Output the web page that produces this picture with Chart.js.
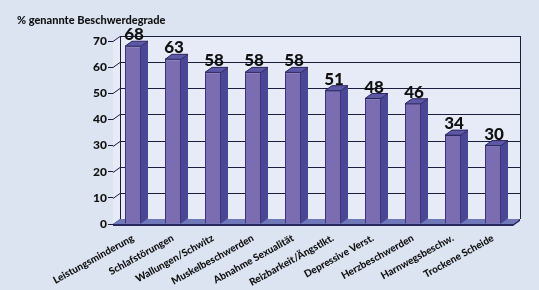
<!DOCTYPE html>
<html>
<head>
<meta charset="utf-8">
<script src="https://cdn.jsdelivr.net/npm/chart.js@4"></script>
<style>
  html, body { margin: 0; padding: 0; background: #dce4f1; }
  #wrap { width: 539px; height: 290px; }
</style>
</head>
<body>
<div id="wrap"><canvas id="chart"></canvas></div>
<script>
const categories = ['Leistungsminderung', 'Schlafstörungen', 'Wallungen/Schwitz', 'Muskelbeschwerden',
    'Abnahme Sexualität', 'Reizbarkeit/Ängstlkt.', 'Depressive Verst.', 'Herzbeschwerden',
    'Harnwegsbeschw.', 'Trockene Scheide'];
const percentValues = [68, 63, 58, 58, 58, 51, 48, 46, 34, 30];
const yTicks = [0, 10, 20, 30, 40, 50, 60, 70];
const titleText = '% genannte Beschwerdegrade';

const FONT = "Lato, 'Liberation Sans', sans-serif";
const DX = 7, DY = 5; // depth of the 3d look

// walls, grid and floor behind the bars, then bar sides/tops and labels
const backdrop = {
    id: 'backdrop',
    beforeDatasetsDraw(chart) {
        const { ctx, chartArea: { left, right, top, bottom }, scales: { y } } = chart;
        ctx.save();
        ctx.fillStyle = '#e7ebf7';
        ctx.beginPath();
        ctx.moveTo(left, top);
        ctx.lineTo(left + DX, top - DY);
        ctx.lineTo(right + DX, top - DY);
        ctx.lineTo(right + DX, bottom - DY);
        ctx.lineTo(left, bottom);
        ctx.closePath();
        ctx.fill();

        ctx.strokeStyle = '#1c1c3c';
        ctx.lineWidth = 1;
        yTicks.forEach(v => {
            const yy = Math.round(y.getPixelForValue(v)) + 0.5;
            ctx.beginPath();
            ctx.moveTo(left, yy);
            ctx.lineTo(left + DX, yy - DY);
            ctx.lineTo(right + DX, yy - DY);
            ctx.stroke();
        });
        ctx.beginPath();
        ctx.moveTo(left + DX + 0.5, top - DY);
        ctx.lineTo(left + DX + 0.5, bottom - DY);
        ctx.moveTo(right + DX + 0.5, top - DY);
        ctx.lineTo(right + DX + 0.5, bottom - DY);
        ctx.stroke();

        // floor
        ctx.fillStyle = '#7078b8';
        ctx.beginPath();
        ctx.moveTo(left, bottom);
        ctx.lineTo(left + DX, bottom - DY);
        ctx.lineTo(right + DX, bottom - DY);
        ctx.lineTo(right, bottom);
        ctx.closePath();
        ctx.fill();
        ctx.fillStyle = '#2a2660';
        ctx.beginPath();
        ctx.moveTo(left, bottom);
        ctx.lineTo(right, bottom);
        ctx.lineTo(right + DX, bottom - DY);
        ctx.lineTo(right + DX, bottom - DY + 2);
        ctx.lineTo(right, bottom + 2);
        ctx.lineTo(left, bottom + 2);
        ctx.closePath();
        ctx.fill();
        ctx.restore();
    },
    afterDatasetsDraw(chart) {
        const { ctx } = chart;
        const meta = chart.getDatasetMeta(0);
        ctx.save();
        meta.data.forEach((bar, i) => {
            const xl = bar.x - bar.width / 2, xr = bar.x + bar.width / 2;
            const t = bar.y, b = bar.base;
            ctx.fillStyle = '#4b4797';
            ctx.beginPath();
            ctx.moveTo(xr, t);
            ctx.lineTo(xr + DX, t - DY);
            ctx.lineTo(xr + DX, b - DY);
            ctx.lineTo(xr, b);
            ctx.closePath();
            ctx.fill();
            ctx.fillStyle = '#5e57a6';
            ctx.beginPath();
            ctx.moveTo(xl, t);
            ctx.lineTo(xl + DX, t - DY);
            ctx.lineTo(xr + DX, t - DY);
            ctx.lineTo(xr, t);
            ctx.closePath();
            ctx.fill();
            ctx.strokeStyle = '#2a2660';
            ctx.lineWidth = 1;
            ctx.stroke();

            ctx.fillStyle = '#111';
            ctx.font = '900 17px ' + FONT;
            ctx.textAlign = 'center';
            ctx.textBaseline = 'alphabetic';
            ctx.fillText(String(percentValues[i]), bar.x + 1, t - DY - 1);
        });
        // title
        ctx.font = '900 11px ' + FONT;
        ctx.textAlign = 'left';
        ctx.fillText(titleText, 17, 24);
        ctx.restore();
    }
};

new Chart(document.getElementById('chart'), {
    type: 'bar',
    data: {
        labels: categories,
        datasets: [{
            data: percentValues,
            backgroundColor: '#7b6db2',
            borderColor: '#3a3478',
            borderWidth: 1,
            barPercentage: 0.4,
            categoryPercentage: 1
        }]
    },
    options: {
        responsive: true,
        maintainAspectRatio: false,
        animation: false,
        layout: { padding: { top: 41, right: 26, left: 0, bottom: 0 } },
        plugins: {
            legend: { display: false },
            tooltip: { enabled: false }
        },
        scales: {
            x: {
                grid: { display: false },
                border: { display: false },
                ticks: {
                    color: '#111',
                    font: { family: FONT, weight: '900', size: 10 },
                    minRotation: 29,
                    maxRotation: 29,
                    padding: 0,
                    autoSkip: false
                },
                afterFit(scale) { scale.height = 66; }
            },
            y: {
                min: 0,
                max: 70,
                grid: { drawOnChartArea: false, tickLength: 5, color: '#1c1c3c' },
                border: { display: true, color: '#1c1c3c', width: 1 },
                ticks: {
                    stepSize: 10,
                    color: '#111',
                    padding: 1,
                    font: { family: FONT, weight: '900', size: 12 }
                },
                afterFit(scale) { scale.width = 113; }
            }
        }
    },
    plugins: [backdrop]
});
</script>
</body>
</html>
